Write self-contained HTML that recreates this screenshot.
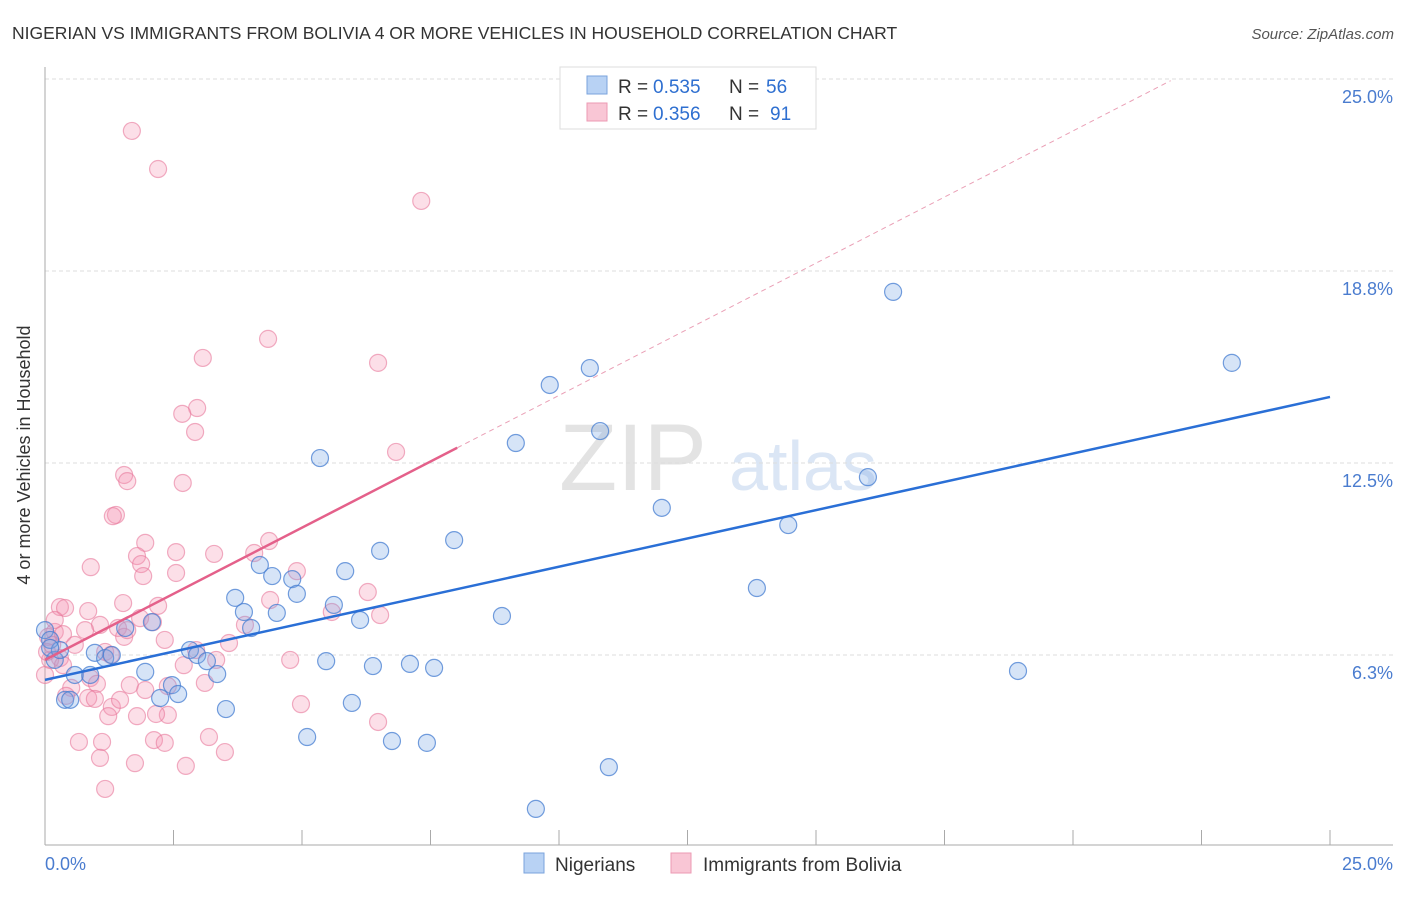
<!DOCTYPE html>
<html><head><meta charset="utf-8"><style>
body{margin:0;background:#fff;font-family:"Liberation Sans",sans-serif}
svg text{font-family:"Liberation Sans",sans-serif}
</style></head><body>
<svg id="chart" width="1406" height="892">
<text x="12" y="39" font-size="17.5" fill="#333">NIGERIAN VS IMMIGRANTS FROM BOLIVIA 4 OR MORE VEHICLES IN HOUSEHOLD CORRELATION CHART</text>
<text x="1394" y="39" font-size="15" fill="#555" font-style="italic" text-anchor="end">Source: ZipAtlas.com</text>
<text x="633" y="490" font-size="95" fill="#e3e3e3" font-family="Liberation Serif" text-anchor="middle">ZIP</text>
<text x="803" y="490" font-size="70" fill="#dbe6f5" text-anchor="middle">atlas</text>
<g id="grid"></g>
<g id="axes"></g>
<g id="points"></g>
<g id="lines"></g>
<text x="30" y="455" font-size="18" fill="#333" text-anchor="middle" transform="rotate(-90 30 455)">4 or more Vehicles in Household</text>
<text x="45" y="870" font-size="18" fill="#4a7ccf">0.0%</text>
<text x="1393" y="870" font-size="18" fill="#4a7ccf" text-anchor="end">25.0%</text>
<g>
<rect x="560" y="67" width="256" height="62" fill="#fff" stroke="#ddd"/>
<rect x="587" y="76" width="20" height="18" fill="#b8d2f4" stroke="#7aa3dc"/>
<rect x="587" y="103" width="20" height="18" fill="#f9c6d5" stroke="#ec9ab3"/>
<text x="618" y="93" font-size="19" fill="#333">R =</text>
<text x="653" y="93" font-size="19" fill="#2e6fd0">0.535</text>
<text x="729" y="93" font-size="19" fill="#333">N =</text>
<text x="766" y="93" font-size="19" fill="#2e6fd0">56</text>
<text x="618" y="120" font-size="19" fill="#333">R =</text>
<text x="653" y="120" font-size="19" fill="#2e6fd0">0.356</text>
<text x="729" y="120" font-size="19" fill="#333">N =</text>
<text x="770" y="120" font-size="19" fill="#2e6fd0">91</text>
</g>
<g>
<rect x="524" y="853" width="20" height="20" fill="#b8d2f4" stroke="#7aa3dc"/>
<text x="555" y="871" font-size="19" fill="#333">Nigerians</text>
</g>
<g>
<rect x="671" y="853" width="20" height="20" fill="#f9c6d5" stroke="#ec9ab3"/>
<text x="703" y="871" font-size="19" fill="#333">Immigrants from Bolivia</text>
</g>
</svg>
<script>
const yTicks=[6.25,12.5,18.75,25];
const yTickLabels=["6.3%","12.5%","18.8%","25.0%"];
const xTicks=[0,2.5,5,7.5,10,12.5,15,17.5,20,22.5,25];
const blueX=[0,0.10,0.19,0.39,0.29,0.58,0.88,0.97,1.17,1.30,1.56,1.95,2.08,2.24,2.47,2.59,2.82,2.96,3.15,3.35,3.52,3.70,3.87,4.01,4.18,4.42,4.51,4.81,4.90,5.10,5.35,5.47,5.62,5.84,5.97,6.13,6.38,6.52,6.75,7.10,7.43,7.57,7.96,8.89,9.16,9.55,9.82,10.60,10.80,10.97,12.00,13.85,14.46,16.01,16.50,18.93,23.09,0.49,0.10];
const blueY=[7.06,6.74,6.09,4.79,6.41,5.60,5.60,6.32,6.15,6.25,7.13,5.70,7.32,4.85,5.27,4.98,6.41,6.25,6.05,5.63,4.49,8.11,7.65,7.13,9.18,8.82,7.62,8.72,8.24,3.58,12.66,6.05,7.88,8.98,4.69,7.39,5.89,9.64,3.45,5.96,3.39,5.83,9.99,7.52,13.15,1.24,15.04,15.59,13.54,2.60,11.04,8.43,10.48,12.04,18.07,5.73,15.76,4.79,6.48];
const pinkX=[1.69,2.20,7.32,4.34,3.07,6.48,2.96,2.67,2.92,6.83,1.54,1.60,2.68,1.38,1.32,1.95,2.55,1.79,4.36,3.29,4.07,0.89,1.87,1.91,2.55,4.90,6.28,1.52,2.20,0.29,0.84,0.39,1.85,2.10,1.07,1.42,1.54,0.78,0.19,0.06,0.35,2.94,3.58,0.58,1.17,1.28,0.88,1.01,2.70,1.65,2.39,3.11,0.51,0.41,0.84,1.30,0.97,4.98,2.39,2.16,1.79,1.23,6.48,0.66,1.11,2.12,2.33,3.19,3.50,1.07,1.75,2.74,1.17,5.58,0.29,0.00,0.10,0.19,6.52,4.38,0.04,0.14,0.35,1.60,3.89,4.77,1.46,1.95,2.33,3.33];
const pinkY=[23.31,22.07,21.03,16.54,15.92,15.76,14.29,14.10,13.51,12.86,12.11,11.91,11.85,10.81,10.77,9.90,9.60,9.47,9.96,9.54,9.57,9.11,9.21,8.82,8.92,8.98,8.30,7.94,7.85,7.81,7.68,7.78,7.45,7.32,7.23,7.13,6.84,7.06,7.00,6.84,6.93,6.41,6.64,6.58,6.35,6.25,5.50,5.31,5.92,5.27,5.24,5.34,5.18,4.92,4.85,4.56,4.82,4.65,4.30,4.33,4.26,4.26,4.07,3.42,3.42,3.48,3.39,3.58,3.09,2.90,2.73,2.64,1.89,7.65,6.15,5.60,6.09,7.39,7.55,8.04,6.35,6.58,5.92,7.06,7.23,6.09,4.79,5.11,6.74,6.09];
const blueTrend=[5.44,14.65];
const pinkTrend=[6.09,0.861];
const pinkSolidEnd=8.02, pinkDashEnd=21.9;
const X=v=>45+v/25*1285, Y=v=>847-v/25*768;
const NS="http://www.w3.org/2000/svg";
function mk(tag,parent,attrs){const e=document.createElementNS(NS,tag);for(const k in attrs)e.setAttribute(k,attrs[k]);document.getElementById(parent).appendChild(e);return e;}
yTicks.forEach((t,i)=>{
 const l=mk('line','grid',{x1:45,x2:1393,y1:Y(t),y2:Y(t),stroke:'#ddd','stroke-dasharray':'4,3'});
 
 
 const tx=mk('text','grid',{x:1393,y:Y(t)+24,'font-size':18,fill:'#4a7ccf','text-anchor':'end'});
 tx.textContent=yTickLabels[i];
 
 
});
const ya=mk('line','axes',{x1:45,x2:45,y1:67,y2:845,stroke:'#aaa'});


const xa=mk('line','axes',{x1:45,x2:1393,y1:845,y2:845,stroke:'#aaa'});


xTicks.forEach(t=>{const l=mk('line','axes',{x1:X(t),x2:X(t),y1:830,y2:845,stroke:'#aaa'});
 
 });
pinkX.forEach((v,i)=>{const c=mk('circle','points',{cx:X(v),cy:Y(pinkY[i]),r:8.5,fill:'rgba(244,150,178,0.3)',stroke:'rgba(232,120,155,0.6)','stroke-width':1.2});
 
 });
blueX.forEach((v,i)=>{const c=mk('circle','points',{cx:X(v),cy:Y(blueY[i]),r:8.5,fill:'rgba(120,165,230,0.3)',stroke:'rgba(70,125,210,0.75)','stroke-width':1.2});
 
 });
const bl=mk('line','lines',{x1:X(0),y1:Y(blueTrend[0]),x2:X(25),y2:Y(blueTrend[1]),stroke:'#2a6fd6','stroke-width':2.5});


const pl=mk('line','lines',{x1:X(0),y1:Y(pinkTrend[0]),x2:X(pinkSolidEnd),y2:Y(pinkTrend[0]+pinkTrend[1]*pinkSolidEnd),stroke:'#e4608a','stroke-width':2.5});


const pd=mk('line','lines',{x1:X(pinkSolidEnd),y1:Y(pinkTrend[0]+pinkTrend[1]*pinkSolidEnd),x2:X(pinkDashEnd),y2:Y(pinkTrend[0]+pinkTrend[1]*pinkDashEnd),stroke:'#eaa0b6','stroke-width':1,'stroke-dasharray':'5,4'});


</script>
</body></html>
